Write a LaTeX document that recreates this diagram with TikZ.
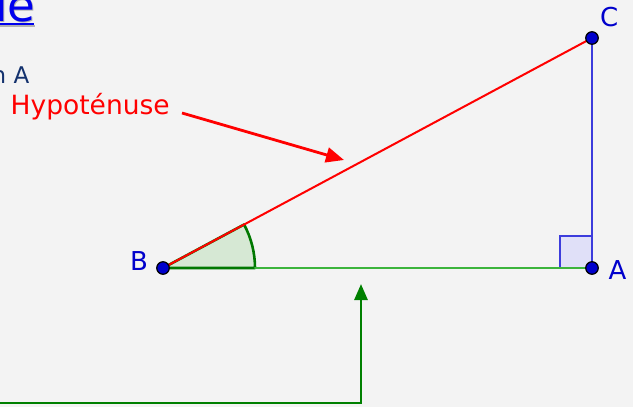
\documentclass[tikz,border=0pt]{standalone}
\usepackage{fontspec}
\setmainfont{DejaVu Sans}
\usetikzlibrary{arrows.meta}
\definecolor{bgc}{RGB}{243,243,243}
\definecolor{ptblue}{RGB}{0,0,204}
\definecolor{sideblue}{RGB}{60,60,220}
\definecolor{sqfill}{RGB}{224,224,248}
\definecolor{basegreen}{RGB}{60,180,60}
\definecolor{darkgreen}{RGB}{0,120,0}
\definecolor{secfill}{RGB}{214,232,212}
\definecolor{arrowgreen}{RGB}{0,128,0}
\definecolor{titleblue}{RGB}{0,0,238}
\definecolor{navy}{RGB}{20,50,110}
\begin{document}
\begin{tikzpicture}[x=1pt,y=-1pt,
  pt/.style={circle,fill=ptblue,draw=black,line width=1.2pt,inner sep=0pt,minimum size=12.5pt},
  lbl/.style={text=ptblue,inner sep=0pt,anchor=base west,font=\fontsize{26}{30}\selectfont},
  redlbl/.style={text=red,inner sep=0pt,anchor=base west,font=\fontsize{26.5}{30}\selectfont},
  side/.style={line width=2pt,line cap=round}]
\useasboundingbox (0,0) rectangle (633,407);
\clip (0,0) rectangle (633,407);
\fill[bgc] (0,0) rectangle (633,407);
% title fragments
\node[text=gray!60,inner sep=0pt,anchor=base west,font=\fontsize{45}{50}\selectfont] at (-4,22) {le};
\fill[gray!60] (-5,24.5) rectangle (34.5,26.5);
\node[text=titleblue,inner sep=0pt,anchor=base west,font=\fontsize{45}{50}\selectfont] (title) at (-5,21) {le};
\fill[titleblue] (-5,22.5) rectangle (33.5,25);
\node[text=navy,inner sep=0pt,anchor=base west,font=\fontsize{23}{26}\selectfont] (sub) at (-8.5,83.5) {n A};
% points (coordinates)
\coordinate (Bp) at (163,268);
\coordinate (Ap) at (592,268);
\coordinate (Cp) at (592,38);
% angle sector
\filldraw[fill=secfill,draw=darkgreen,line width=2.6pt,line join=round] (Bp) -- ++(92,0) arc[start angle=0,end angle=-28.2,radius=92] -- cycle;
% right angle
\filldraw[fill=sqfill,draw=sideblue,line width=2pt] (Ap) rectangle ++(-32,-32);
% sides
\draw[side,basegreen] (255,268) -- (Ap);
\draw[side,sideblue,line width=2.2pt] (Ap) -- (Cp);
\draw[side,red] (Bp) -- (Cp);
% point markers
\node[pt] (B) at (Bp) {};
\node[pt] (A) at (Ap) {};
\node[pt] (C) at (Cp) {};
% labels
\node[lbl] (lB) at (130,270.5) {B};
\node[lbl] (lA) at (608.5,279) {A};
\node[lbl] (lC) at (600,26.5) {C};
% hypotenuse label and arrow
\node[redlbl] (hyp) at (10.5,114) {Hypoténuse};
\coordinate (hypStart) at (182,113);
\coordinate (hypTip) at (344,160);
\draw[red,line width=2.8pt,-{Triangle[length=18pt,width=15pt]}] (hypStart) -- (hypTip);
% green arrow
\coordinate (gStart) at (-5,403);
\coordinate (gTip) at (361,284);
\draw[arrowgreen,line width=2.8pt,-{Triangle[length=16pt,width=13pt]}] (gStart) -| (gTip);
\end{tikzpicture}
\end{document}
